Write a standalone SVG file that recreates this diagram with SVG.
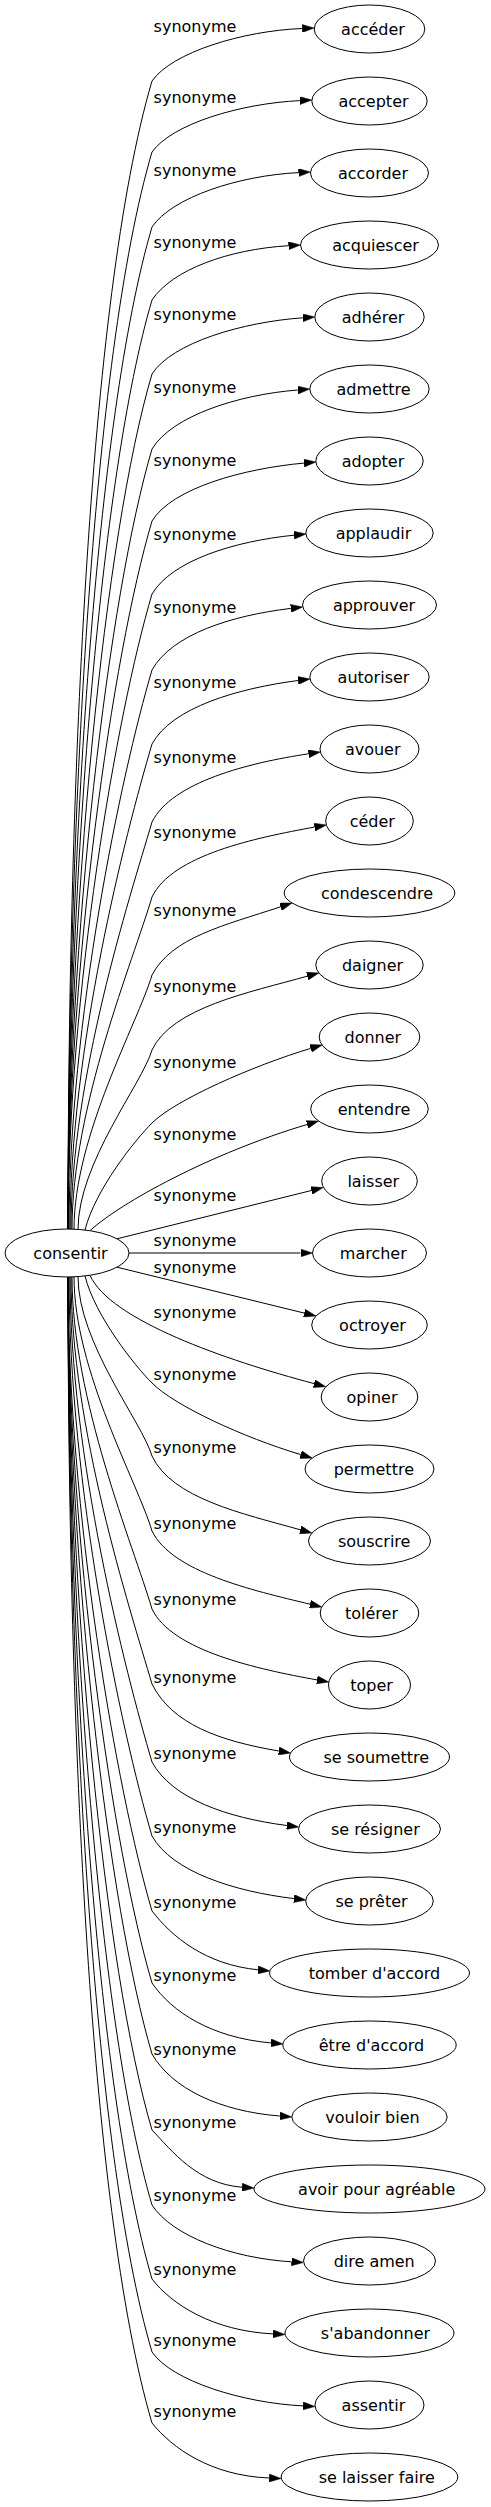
<svg xmlns="http://www.w3.org/2000/svg" width="491" height="2507" viewBox="0 0 491 2507">
<style>
text{font-family:"DejaVu Sans","Liberation Sans",sans-serif;font-size:16px;fill:#000}
.n ellipse{fill:#fff;stroke:#000;stroke-width:1}
.n text{text-anchor:middle}
#connectors path{fill:none;stroke:#000;stroke-width:1;marker-end:url(#arr)}
#connectors text{text-anchor:middle}
</style>
<defs>
<marker id="arr" viewBox="0 0 12 8" markerWidth="12" markerHeight="8" refX="0" refY="4" orient="auto" markerUnits="userSpaceOnUse">
<path d="M0,0 L12,4 L0,8 z" fill="#000" stroke="#000" stroke-width="0.5"/>
</marker>
</defs>
<rect width="491" height="2507" fill="#fff"/>
<g id="connectors">
<g id="e0"><path d="M68,1229.5 C68,804.5 87.7,299.2 152,81 C172,52.4 242.3,30.9 302.2,28.5"/><text x="195" y="32">synonyme</text></g>
<g id="e1"><path d="M68,1229.5 C68,830.8 91.7,356.7 152,152 C172,124 239.9,103.6 299.8,100.6"/><text x="195" y="103">synonyme</text></g>
<g id="e2"><path d="M68,1229.5 C68,858.6 95.9,417.5 152,227 C172,197.3 238.6,175.6 298.5,172.6"/><text x="195" y="176">synonyme</text></g>
<g id="e3"><path d="M68,1229.5 C68,885.6 99.9,476.6 152,300 C172,269.8 228.6,249.3 288.5,245.7"/><text x="195" y="248">synonyme</text></g>
<g id="e4"><path d="M68,1229.5 C68,913 104.1,536.5 152,374 C172,342.7 243,322 302.8,317.8"/><text x="195" y="320">synonyme</text></g>
<g id="e5"><path d="M68,1229.5 C68,940.7 108.3,597.3 152,449 C172,416 238,394.7 297.8,390"/><text x="195" y="393">synonyme</text></g>
<g id="e6"><path d="M68,1229.5 C68,967.4 112.3,655.6 152,521 C172,488 244.1,468.5 303.9,463.1"/><text x="195" y="466">synonyme</text></g>
<g id="e7"><path d="M68,1229.5 C68,994.4 116.4,714.7 152,594 C172,560.5 234.3,541.2 294,535.2"/><text x="195" y="540">synonyme</text></g>
<g id="e8"><path d="M69,1229.5 C69,1022.5 120.7,776.3 152,670 C172,634.3 231.2,615.6 290.8,608.4"/><text x="195" y="613">synonyme</text></g>
<g id="e9"><path d="M70,1229.5 C70,1049.9 124.8,836.2 152,744 C172,707.2 238.6,688.3 298.1,680.5"/><text x="195" y="688">synonyme</text></g>
<g id="e10"><path d="M71,1229.5 C71,1078.7 129.2,899.4 152,822 C172,781.9 249.2,762.7 308.5,753.8"/><text x="195" y="763">synonyme</text></g>
<g id="e11"><path d="M72,1229.5 C72,1106.5 133.4,960.2 152,897 C172,855.2 255.4,837.8 314.5,827.1"/><text x="195" y="838">synonyme</text></g>
<g id="e12"><path d="M74,1229.5 C74,1135.3 137.7,1023.4 152,975 C172,937.3 223.6,925.6 280.6,906.8"/><text x="195" y="916">synonyme</text></g>
<g id="e13"><path d="M78,1229.5 C78,1163.1 142,1084.1 152,1050 C172,1007.5 249.6,992.4 307.3,976.2"/><text x="195" y="992">synonyme</text></g>
<g id="e14"><path d="M85,1230 C95,1190 135,1140 152,1123 C175,1100 253.1,1065.7 310.6,1048.4"/><text x="195" y="1068">synonyme</text></g>
<g id="e15"><path d="M90,1230.7 C120,1203 211,1153 307.1,1124.5"/><text x="195" y="1140">synonyme</text></g>
<g id="e16"><path d="M117,1238.8 L311.4,1190.5"/><text x="195" y="1201">synonyme</text></g>
<g id="e17"><path d="M129,1253 L300.5,1253"/><text x="195" y="1246">synonyme</text></g>
<g id="e18"><path d="M117,1267.2 L304.3,1313.1"/><text x="195" y="1273">synonyme</text></g>
<g id="e19"><path d="M90,1275.3 C110,1320 225,1360 314.1,1383.6"/><text x="195" y="1318">synonyme</text></g>
<g id="e20"><path d="M85,1276 C95,1316 135,1366 152,1383 C175,1406 243.2,1437.3 300.7,1454.6"/><text x="195" y="1380">synonyme</text></g>
<g id="e21"><path d="M78,1276.5 C78,1342.9 142,1421.9 152,1456 C172,1498.5 242.7,1513.6 300.4,1529.8"/><text x="195" y="1453">synonyme</text></g>
<g id="e22"><path d="M74,1276.5 C74,1370.7 137.7,1482.6 152,1531 C172,1572 251.8,1590.2 310.1,1604.2"/><text x="195" y="1529">synonyme</text></g>
<g id="e23"><path d="M72,1276.5 C72,1399.5 133.4,1545.8 152,1609 C172,1650.8 257.9,1669.2 317,1679.9"/><text x="195" y="1605">synonyme</text></g>
<g id="e24"><path d="M71,1276.5 C71,1427.3 129.2,1606.6 152,1684 C172,1724.2 219.6,1740.9 278.8,1751"/><text x="195" y="1683">synonyme</text></g>
<g id="e25"><path d="M70,1276.5 C70,1456.1 124.8,1669.8 152,1762 C172,1798.9 227.3,1817.7 286.8,1825.5"/><text x="195" y="1759">synonyme</text></g>
<g id="e26"><path d="M69,1276.5 C69,1483.5 120.7,1729.7 152,1836 C172,1871.8 234.3,1891.4 293.9,1898.6"/><text x="195" y="1833">synonyme</text></g>
<g id="e27"><path d="M68,1276.5 C68,1511.3 116.5,1790.4 152,1911 C172,1936.8 205.2,1964.5 258,1969.8"/><text x="195" y="1908">synonyme</text></g>
<g id="e28"><path d="M68,1276.5 C68,1537.9 112.4,1848.8 152,1983 C172,2012 211.2,2037.6 270.9,2042.9"/><text x="195" y="1981">synonyme</text></g>
<g id="e29"><path d="M68,1276.5 C68,1564.2 108.5,1906.3 152,2054 C172,2088.7 220,2111.3 279.8,2116"/><text x="195" y="2055">synonyme</text></g>
<g id="e30"><path d="M68,1276.5 C68,1592.3 104.2,1967.8 152,2130 C172,2150.9 197.2,2184 242.1,2187.2"/><text x="195" y="2128">synonyme</text></g>
<g id="e31"><path d="M68,1276.5 C68,1620 100,2028.6 152,2205 C172,2235.8 231.6,2258.2 291.5,2261.8"/><text x="195" y="2201">synonyme</text></g>
<g id="e32"><path d="M68,1276.5 C68,1647.4 95.9,2088.5 152,2279 C172,2304.7 213.1,2330.9 273,2333.9"/><text x="195" y="2275">synonyme</text></g>
<g id="e33"><path d="M68,1276.5 C68,1674.4 91.8,2147.7 152,2352 C172,2381.2 243.1,2402.9 303,2405.9"/><text x="195" y="2346">synonyme</text></g>
<g id="e34"><path d="M68,1276.5 C68,1700.7 87.8,2205.2 152,2423 C172,2447.9 210.7,2475.7 269.2,2478"/><text x="195" y="2417">synonyme</text></g>
</g>
<g id="consentir" class="n"><ellipse cx="67" cy="1253" rx="62" ry="24"/><text x="70.5" y="1259">consentir</text></g>
<g id="n0" class="n"><ellipse cx="369.5" cy="29" rx="55.3" ry="24"/><text x="373" y="35">accéder</text></g>
<g id="n1" class="n"><ellipse cx="369.5" cy="101" rx="57.7" ry="24"/><text x="373.5" y="107">accepter</text></g>
<g id="n2" class="n"><ellipse cx="369.5" cy="173" rx="59" ry="24"/><text x="373" y="179">accorder</text></g>
<g id="n3" class="n"><ellipse cx="369.5" cy="245" rx="69" ry="24"/><text x="375.5" y="251">acquiescer</text></g>
<g id="n4" class="n"><ellipse cx="369.5" cy="317" rx="54.7" ry="24"/><text x="373" y="323">adhérer</text></g>
<g id="n5" class="n"><ellipse cx="369.5" cy="389" rx="59.7" ry="24"/><text x="373.5" y="395">admettre</text></g>
<g id="n6" class="n"><ellipse cx="369.5" cy="461" rx="53.7" ry="24"/><text x="373" y="467">adopter</text></g>
<g id="n7" class="n"><ellipse cx="369.5" cy="533" rx="63.7" ry="24"/><text x="373.5" y="539">applaudir</text></g>
<g id="n8" class="n"><ellipse cx="369.5" cy="605" rx="67" ry="24"/><text x="374" y="611">approuver</text></g>
<g id="n9" class="n"><ellipse cx="369.5" cy="677" rx="59.7" ry="24"/><text x="373.5" y="683">autoriser</text></g>
<g id="n10" class="n"><ellipse cx="369.5" cy="749" rx="49.5" ry="24"/><text x="372.7" y="755">avouer</text></g>
<g id="n11" class="n"><ellipse cx="369.5" cy="821" rx="43.8" ry="24"/><text x="372.3" y="827">céder</text></g>
<g id="n12" class="n"><ellipse cx="369.5" cy="893" rx="85.3" ry="24"/><text x="377" y="899">condescendre</text></g>
<g id="n13" class="n"><ellipse cx="369.5" cy="965" rx="53.7" ry="24"/><text x="372.5" y="971">daigner</text></g>
<g id="n14" class="n"><ellipse cx="369.5" cy="1037" rx="50.3" ry="24"/><text x="372.8" y="1043">donner</text></g>
<g id="n15" class="n"><ellipse cx="369.5" cy="1109" rx="58.8" ry="24"/><text x="374" y="1115">entendre</text></g>
<g id="n16" class="n"><ellipse cx="369.5" cy="1181" rx="47.8" ry="24"/><text x="373.3" y="1187">laisser</text></g>
<g id="n17" class="n"><ellipse cx="369.5" cy="1253" rx="57" ry="24"/><text x="373.3" y="1259">marcher</text></g>
<g id="n18" class="n"><ellipse cx="369.5" cy="1325" rx="57.8" ry="24"/><text x="372.5" y="1331">octroyer</text></g>
<g id="n19" class="n"><ellipse cx="369.5" cy="1397" rx="48.3" ry="24"/><text x="372" y="1403">opiner</text></g>
<g id="n20" class="n"><ellipse cx="369.5" cy="1469" rx="64.5" ry="24"/><text x="373.8" y="1475">permettre</text></g>
<g id="n21" class="n"><ellipse cx="369.5" cy="1541" rx="61" ry="24"/><text x="374.2" y="1547">souscrire</text></g>
<g id="n22" class="n"><ellipse cx="369.5" cy="1613" rx="49.3" ry="24"/><text x="371.5" y="1619">tolérer</text></g>
<g id="n23" class="n"><ellipse cx="369.5" cy="1685" rx="41" ry="24"/><text x="371.5" y="1691">toper</text></g>
<g id="n24" class="n"><ellipse cx="369.5" cy="1757" rx="80" ry="24"/><text x="376.3" y="1763">se soumettre</text></g>
<g id="n25" class="n"><ellipse cx="369.5" cy="1829" rx="71" ry="24"/><text x="375.3" y="1835">se résigner</text></g>
<g id="n26" class="n"><ellipse cx="369.5" cy="1901" rx="63.8" ry="24"/><text x="371.5" y="1907">se prêter</text></g>
<g id="n27" class="n"><ellipse cx="369.5" cy="1973" rx="100" ry="24"/><text x="374.5" y="1979">tomber d'accord</text></g>
<g id="n28" class="n"><ellipse cx="369.5" cy="2045" rx="86.7" ry="24"/><text x="371.5" y="2051">être d'accord</text></g>
<g id="n29" class="n"><ellipse cx="369.5" cy="2117" rx="77.7" ry="24"/><text x="372.5" y="2123">vouloir bien</text></g>
<g id="n30" class="n"><ellipse cx="369.5" cy="2189" rx="115.5" ry="24"/><text x="376.7" y="2195">avoir pour agréable</text></g>
<g id="n31" class="n"><ellipse cx="369.5" cy="2261" rx="66" ry="24"/><text x="374.2" y="2267">dire amen</text></g>
<g id="n32" class="n"><ellipse cx="369.5" cy="2333" rx="84.5" ry="24"/><text x="375.5" y="2339">s'abandonner</text></g>
<g id="n33" class="n"><ellipse cx="369.5" cy="2405" rx="54.5" ry="24"/><text x="373.5" y="2411">assentir</text></g>
<g id="n34" class="n"><ellipse cx="369.5" cy="2477" rx="88.3" ry="24"/><text x="376.7" y="2483">se laisser faire</text></g>
</svg>
